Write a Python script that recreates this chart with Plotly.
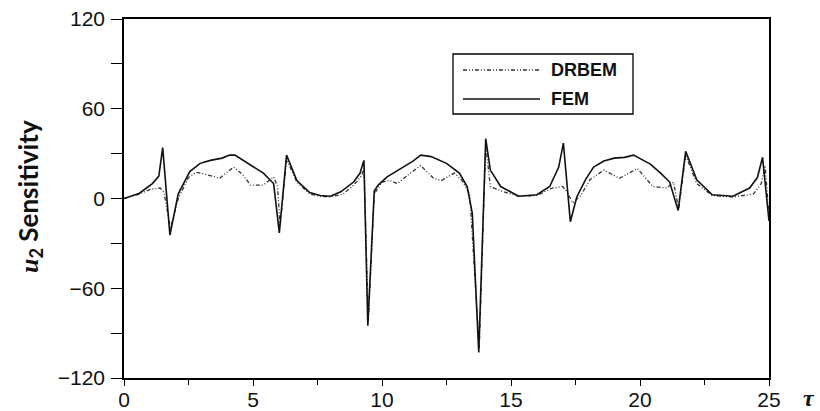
import plotly.graph_objects as go

# ---- data ----
fem_tau = [0, 0.6, 1.1, 1.35, 1.5, 1.78, 2.1, 2.55, 2.95, 3.35, 3.8, 4.1, 4.3, 4.65, 5.0, 5.4, 5.8,
           6.02, 6.3, 6.7, 7.2, 7.6, 8.0, 8.4, 8.9, 9.15, 9.3, 9.45, 9.7, 9.85, 10.2, 10.8, 11.2,
           11.5, 11.9, 12.5, 13.0, 13.3, 13.5, 13.75, 14.02, 14.2, 14.6, 15.3, 16.0, 16.5, 16.85,
           17.03, 17.3, 17.55, 17.9, 18.2, 18.6, 19.0, 19.4, 19.75, 20.1, 20.4, 20.8, 21.15, 21.48,
           21.77, 22.2, 22.8, 23.6, 24.25, 24.55, 24.75, 25.0]
fem_val = [0, 3.5, 10, 15, 34, -24.5, 3, 18, 23.5, 25.5, 27, 29, 29, 25, 21, 17, 10,
           -23, 29, 12, 4, 2, 1.5, 4.5, 11, 17, 25.5, -85, 5, 9, 14.5, 21, 25,
           29, 28, 23.5, 17, 8, -10, -103, 40, 19, 8, 1.5, 2.5, 8, 21,
           37, -15.5, 1, 13, 21, 25, 27, 27.5, 29, 26, 23, 17, 11, -8,
           31.5, 12.5, 2.5, 1.5, 7, 14, 27.5, -15]

drbem_tau = [0, 0.6, 1.0, 1.4, 1.55, 1.8, 2.1, 2.5, 2.8, 3.2, 3.7, 4.25, 4.6, 4.9, 5.4, 5.8, 5.95,
             6.05, 6.3, 6.7, 7.2, 7.6, 8.0, 8.5, 8.9, 9.2, 9.3, 9.47, 9.7, 10.0, 10.3, 10.6, 11.1,
             11.5, 12.0, 12.3, 12.8, 13.1, 13.4, 13.77, 14.02, 14.2, 14.7, 15.3, 16.0, 16.6, 17.0,
             17.15, 17.4, 17.7, 18.06, 18.6, 19.2, 19.9, 20.5, 21.05, 21.3, 21.5, 21.77, 22.2, 22.8,
             23.6, 24.4, 24.7, 24.85, 25.0]
drbem_val = [0, 3, 6, 7, 4, -20, 0, 14, 17.5, 16, 13.5, 21, 16, 9, 9, 14.5, 8,
             -18, 26, 11, 3, 1.5, 1, 3, 9, 15, 20, -82, 3, 11, 12, 10, 17,
             22, 13.5, 12, 17, 12, 3, -100, 36, 8, 4.5, 1.5, 2, 7, 8,
             5, -3, 2, 12.5, 19, 13.5, 20, 8, 7, 11, -7, 29, 10, 2,
             1, 3, 10, 22, -12]

series_names = ["DRBEM", "FEM"]
y_ticks = [-120, -60, 0, 60, 120]
x_ticks = [0, 5, 10, 15, 20, 25]

DASH = "4px,2px,1px,2px,1px,2px"
FIG_W, FIG_H = 820, 411
# plot area in pixels
L, R, T, B = 124, 769, 19, 378
W, H = R - L, B - T


def px(xp):
    return (xp - L) / W


def py(yp):
    return (B - yp) / H


fig = go.Figure()
fig.add_trace(go.Scatter(x=drbem_tau, y=drbem_val, mode="lines", name=series_names[0],
                         line=dict(color="#333333", width=1.3, dash=DASH), showlegend=False))
fig.add_trace(go.Scatter(x=fem_tau, y=fem_val, mode="lines", name=series_names[1],
                         line=dict(color="#111111", width=1.6), showlegend=False))

axis_font = dict(family="Liberation Sans, Arial, sans-serif", size=21, color="#111111")

# main x axis carries the labels (close to the axis line)
fig.update_xaxes(range=[0, 25], tickvals=x_ticks, ticks="", showline=True, linecolor="black",
                 linewidth=1.5, mirror=True, showgrid=False, zeroline=False, tickfont=axis_font,
                 automargin=False, ticklabelstandoff=2)
# overlay x axis only draws the tick marks
fig.update_layout(xaxis2=dict(overlaying="x", matches="x", anchor="y", side="bottom",
                              range=[0, 25], tickvals=x_ticks, showticklabels=False,
                              ticks="outside", ticklen=7, tickwidth=1.2, tickcolor="black",
                              showline=False, showgrid=False, zeroline=False, automargin=False,
                              minor=dict(dtick=2.5, ticks="outside", ticklen=6, tickwidth=1.2,
                                         tickcolor="black")))
fig.add_trace(go.Scatter(x=[], y=[], xaxis="x2", yaxis="y", showlegend=False, hoverinfo="skip"))

fig.update_yaxes(range=[-120, 120], tickvals=y_ticks, ticks="outside", ticklen=11, tickwidth=1.2,
                 tickcolor="black", showline=True, linecolor="black", linewidth=1.5, mirror=True,
                 showgrid=False, zeroline=False, tickfont=axis_font, ticklabelstandoff=2,
                 automargin=False,
                 minor=dict(dtick=30, ticks="outside", ticklen=11, tickwidth=1.2, tickcolor="black"))

# y-axis title
fig.add_annotation(xref="paper", yref="paper", x=px(30), y=py(197), textangle=-90,
                   text="<b><span style='font-family:Liberation Serif, Times New Roman, serif'><i>u</i></span><sub>2</sub> Sensitivity</b>",
                   showarrow=False, xanchor="center", yanchor="middle",
                   font=dict(family="Lato, Liberation Sans, sans-serif", size=26, color="#111111"))

# custom legend (box + sample lines + text)
fig.add_shape(type="rect", xref="paper", yref="paper",
              x0=px(453), x1=px(633), y0=py(114), y1=py(54),
              line=dict(color="black", width=1.3), fillcolor="white", layer="above")
fig.add_shape(type="line", xref="paper", yref="paper",
              x0=px(463), x1=px(540), y0=py(70), y1=py(70),
              line=dict(color="#333333", width=1.3, dash=DASH))
fig.add_shape(type="line", xref="paper", yref="paper",
              x0=px(463), x1=px(540), y0=py(99), y1=py(99),
              line=dict(color="#111111", width=1.6))
for name, ypx in zip(series_names, [70, 99]):
    fig.add_annotation(xref="paper", yref="paper", x=px(549), y=py(ypx),
                       text="<b>" + name + "</b>", showarrow=False, xanchor="left", yanchor="middle",
                       font=dict(family="Liberation Sans, Arial, sans-serif", size=18, color="#111111"))

# tau axis label
fig.add_annotation(xref="paper", yref="paper", x=px(809), y=py(398),
                   text="<b><i>τ</i></b>", showarrow=False, xanchor="center", yanchor="middle",
                   font=dict(family="Liberation Serif, Times New Roman, serif", size=24, color="#111111"))

fig.update_layout(width=FIG_W, height=FIG_H,
                  margin=dict(l=L, r=FIG_W - R, t=T, b=FIG_H - B),
                  plot_bgcolor="white", paper_bgcolor="white", showlegend=False)

fig.write_html("out.html", config={"displayModeBar": False},
               post_script="document.body.style.margin='0';document.body.style.overflow='hidden';")
